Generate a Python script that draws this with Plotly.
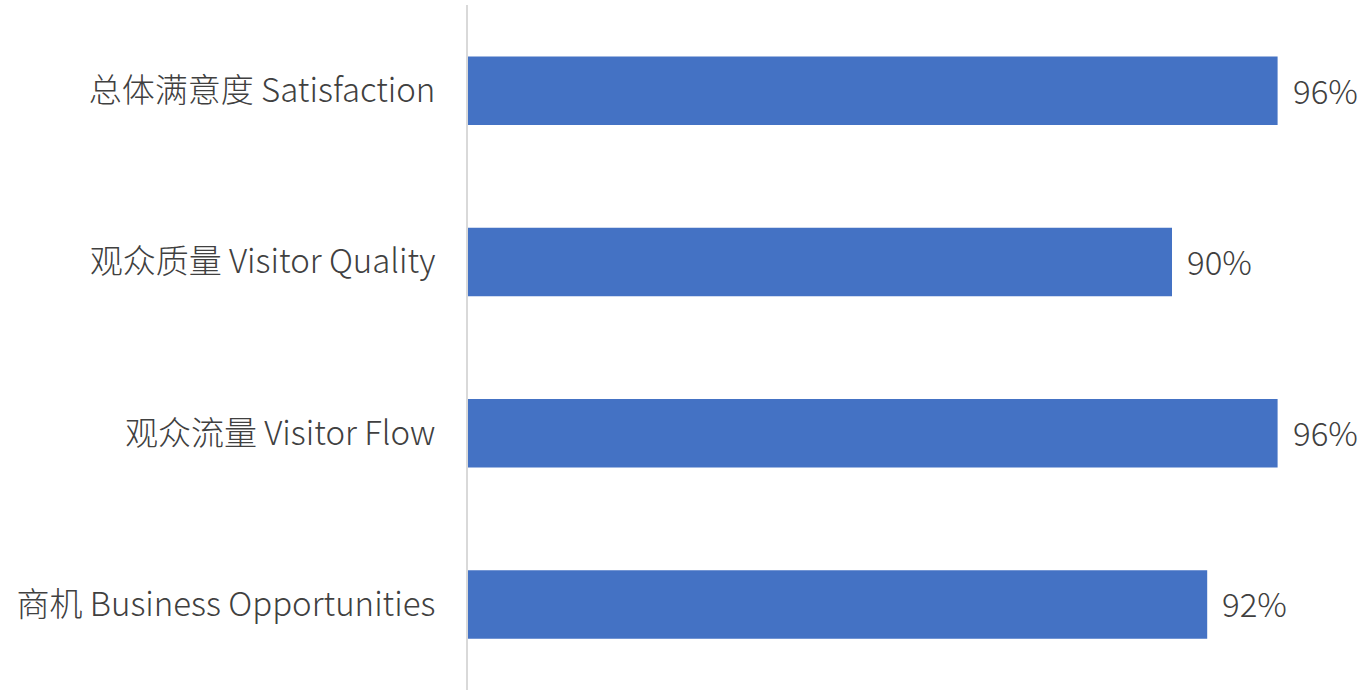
import plotly.graph_objects as go

categories = ["总体满意度 Satisfaction", "观众质量 Visitor Quality", "观众流量 Visitor Flow", "商机 Business Opportunities"]
values = [96, 90, 96, 92]
value_labels = ["96%", "90%", "96%", "92%"]

font_family = "Noto Sans CJK SC"
text_color = "#404040"

fig = go.Figure()
fig.add_trace(go.Bar(
    y=categories,
    x=values,
    orientation="h",
    marker=dict(color="#4472C4", line=dict(width=0)),
    hoverinfo="skip",
))

for c, v, t in zip(categories, values, value_labels):
    fig.add_annotation(x=v, y=c, text=t, xanchor="left", yanchor="middle",
                       xshift=13, yshift=1, showarrow=False,
                       font=dict(family=font_family, size=33, color=text_color, weight=300))

fig.update_layout(
    width=1364, height=690,
    margin=dict(l=468, r=16, t=5, b=0),
    plot_bgcolor="white", paper_bgcolor="white",
    bargap=0.6,
    showlegend=False,
    font=dict(family=font_family, size=33, color=text_color),
    xaxis=dict(range=[50, 100], showgrid=False, zeroline=False, showticklabels=False,
               showline=False, fixedrange=True),
    yaxis=dict(categoryorder="array", categoryarray=categories, autorange="reversed",
               showgrid=False, zeroline=False, showline=True, linecolor="#d9d9d9",
               linewidth=2, ticks="", ticklabelstandoff=24,
               tickfont=dict(family=font_family, size=33, color=text_color, weight=300)),
)

fig.write_html("out.html")
